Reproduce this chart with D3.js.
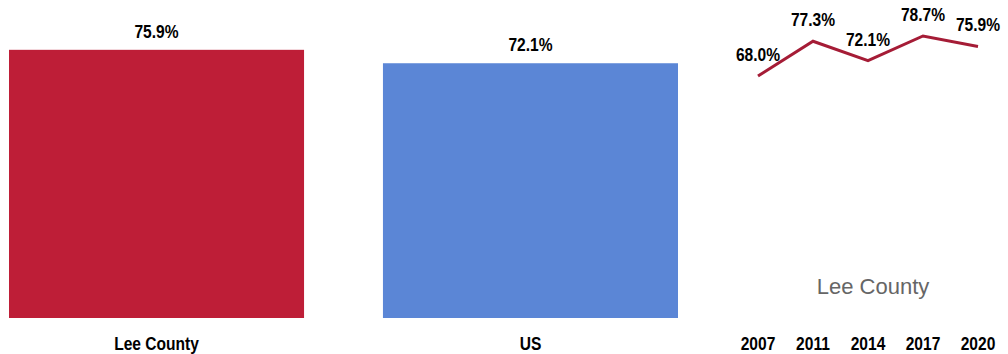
<!DOCTYPE html>
<html>
<head>
<meta charset="utf-8">
<script src="https://cdn.jsdelivr.net/npm/d3@7"></script>
<style>
  body { margin: 0; background: #fff; }
  .lbl { font-family: "Liberation Sans", Arial, sans-serif; font-weight: bold; fill: #000; font-size: 19px; }
</style>
</head>
<body>
<div id="chart"></div>
<script>
// bar chart data
const categories = ["Lee County", "US"];
const barValues = [75.9, 72.1];
const barColors = ["#BE1E37", "#5B86D6"];

// trend data
const years = ["2007", "2011", "2014", "2017", "2020"];
const trendValues = [68.0, 77.3, 72.1, 78.7, 75.9];
const trendName = "Lee County";

const width = 1008, height = 354;
const narrow = 0.82; // no Arial Narrow installed, squeeze the bold face instead

const svg = d3.select("#chart")
	.append("svg")
	.attr("width", width)
	.attr("height", height);

function place(px, py) {
	return "translate(" + px + "," + py + ") scale(" + narrow + ",1)";
}

// bars
const x = d3.scaleBand()
	.domain(categories)
	.range([9, 678])
	.paddingInner(0.211)
	.paddingOuter(0);

const y = d3.scaleLinear()
	.domain([0, 90])
	.range([318, 0]);

svg.selectAll("rect.bar")
	.data(categories)
	.enter()
	.append("rect")
	.attr("class", "bar")
	.attr("x", d => x(d))
	.attr("width", x.bandwidth())
	.attr("y", (d, i) => y(barValues[i]))
	.attr("height", (d, i) => y(0) - y(barValues[i]))
	.attr("fill", (d, i) => barColors[i]);

svg.selectAll("text.barval")
	.data(categories)
	.enter()
	.append("text")
	.attr("class", "lbl barval")
	.attr("transform", (d, i) => place(x(d) + x.bandwidth() / 2, y(barValues[i]) - 12))
	.attr("text-anchor", "middle")
	.text((d, i) => barValues[i].toFixed(1) + "%");

svg.selectAll("text.cat")
	.data(categories)
	.enter()
	.append("text")
	.attr("class", "lbl cat")
	.attr("transform", d => place(x(d) + x.bandwidth() / 2, 350))
	.attr("text-anchor", "middle")
	.text(d => d);

// trend line
const lx = d3.scalePoint()
	.domain(years)
	.range([758, 978]);

const ly = d3.scaleLinear()
	.domain([68, 78.7])
	.range([76, 36]);

const line = d3.line()
	.x((d, i) => lx(years[i]))
	.y(d => ly(d));

svg.append("path")
	.datum(trendValues)
	.attr("d", line)
	.attr("fill", "none")
	.attr("stroke", "#A51C36")
	.attr("stroke-width", 3);

svg.selectAll("text.trendval")
	.data(trendValues)
	.enter()
	.append("text")
	.attr("class", "lbl trendval")
	.attr("transform", (d, i) => place(lx(years[i]), ly(d) - 15))
	.attr("text-anchor", "middle")
	.text(d => d.toFixed(1) + "%");

svg.selectAll("text.year")
	.data(years)
	.enter()
	.append("text")
	.attr("class", "lbl year")
	.attr("transform", d => place(lx(d), 350))
	.attr("text-anchor", "middle")
	.text(d => d);

svg.append("text")
	.attr("x", 873)
	.attr("y", 294)
	.attr("text-anchor", "middle")
	.style("font-family", "Arial, 'Liberation Sans', sans-serif")
	.style("font-size", "22px")
	.attr("fill", "#666")
	.text(trendName);
</script>
</body>
</html>
